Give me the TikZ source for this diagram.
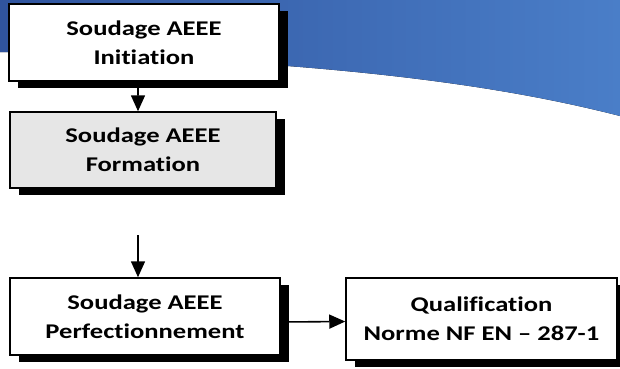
\documentclass[tikz,border=0pt]{standalone}
\usepackage{fontspec}
\setmainfont{Carlito}[Ligatures=NoCommon, FakeStretch=1.27]
\usetikzlibrary{arrows.meta,shadows}
\definecolor{bandL}{RGB}{48,84,158}
\definecolor{bandR}{RGB}{74,126,200}
\definecolor{boxgray}{RGB}{230,230,230}
\tikzset{
  stepbox/.style={draw=black, line width=1.5bp, fill=white, align=center,
    inner sep=0pt, font=\bfseries\fontsize{21}{29}\selectfont,
    drop shadow={shadow xshift=9bp, shadow yshift=-7bp, fill=black, opacity=1}},
  arr/.style={line width=1.6bp, -{Triangle[length=16bp,width=14bp]}}
}
\begin{document}
\begin{tikzpicture}[x=1bp,y=-1bp]
\useasboundingbox (0,0) rectangle (620,368);
\fill[white] (0,0) rectangle (620,368);
\fill[left color=bandL, right color=bandR]
  (0,0) -- (620,0) -- (620,116) .. controls (480,80) and (300,60) .. (0,52) -- cycle;
\node[stepbox, minimum width=270bp, minimum height=77bp] (b1) at (144,42.5) {Soudage AEEE\\Initiation};
\node[stepbox, fill=boxgray, minimum width=266bp, minimum height=76bp] (b2) at (143,150) {Soudage AEEE\\Formation};
\node[stepbox, minimum width=270bp, minimum height=77bp] (b3) at (145,316.5) {Soudage AEEE\\Perfectionnement};
\node[stepbox, minimum width=271bp, minimum height=82bp] (b4) at (481.5,319) {Qualification\\Norme NF EN -- 287-1};
\coordinate (s3) at (138,235);
\draw[arr] ([xshift=-6bp]b1.south) -- ([xshift=-5bp]b2.north);
\draw[arr] (s3) -- (s3 |- b3.north);
\draw[arr] ([yshift=-5.5bp]b3.east) -- ([yshift=-2.5bp]b4.west);
\end{tikzpicture}
\end{document}
